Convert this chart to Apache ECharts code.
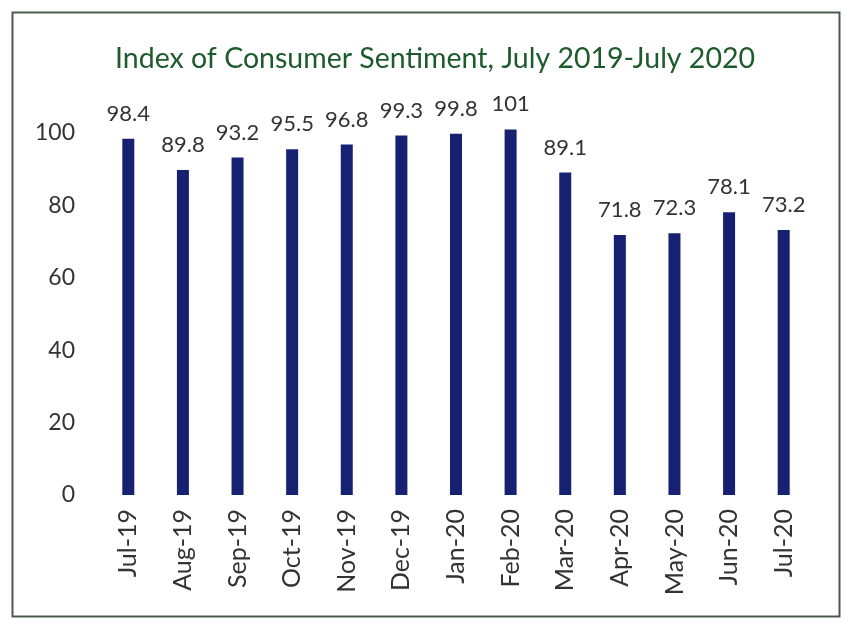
<!DOCTYPE html>
<html>
<head>
<meta charset="utf-8">
<script src="https://cdn.jsdelivr.net/npm/echarts@6/dist/echarts.min.js"></script>
<style>
html,body{margin:0;padding:0;background:#fff;}
#c{width:848px;height:620px;}
</style>
</head>
<body>
<div id="c"></div>
<script>
var categories = ['Jul-19','Aug-19','Sep-19','Oct-19','Nov-19','Dec-19','Jan-20','Feb-20','Mar-20','Apr-20','May-20','Jun-20','Jul-20'];
var sentiment = [98.4, 89.8, 93.2, 95.5, 96.8, 99.3, 99.8, 101, 89.1, 71.8, 72.3, 78.1, 73.2];
var titleText = 'Index of Consumer Sentiment, July 2019-July 2020';

var chart = echarts.init(document.getElementById('c'), null, {renderer:'canvas'});
chart.setOption({
  backgroundColor: '#ffffff',
  animation: false,
  title: {
    text: titleText,
    left: 430,
    top: 39,
    textAlign: 'center',
    textStyle: {fontFamily: 'Lato', fontWeight: 'normal', fontSize: 28.5, color: '#1d5a2c'}
  },
  graphic: [{
    type: 'rect',
    shape: {x: 12.5, y: 12.5, width: 827, height: 604},
    style: {fill: 'none', stroke: '#4a5a4a', lineWidth: 2},
    silent: true
  }],
  grid: {left: 101, right: 37, top: 133, bottom: 125},
  xAxis: {
    type: 'category',
    data: categories,
    axisLine: {show: false},
    axisTick: {show: false},
    axisLabel: {rotate: 90, margin: 14, fontFamily: 'Lato', fontSize: 25, color: '#333'}
  },
  yAxis: {
    type: 'value',
    min: 0, max: 100, interval: 20,
    axisLine: {show: false},
    axisTick: {show: false},
    splitLine: {show: false},
    axisLabel: {margin: 26, fontFamily: 'Lato', fontSize: 23, color: '#333'}
  },
  series: [{
    type: 'bar',
    data: sentiment,
    barWidth: 12,
    clip: false,
    itemStyle: {color: '#172171'},
    label: {show: true, position: 'top', distance: 14, fontFamily: 'Lato', fontSize: 22, color: '#333'}
  }]
});
</script>
</body>
</html>
